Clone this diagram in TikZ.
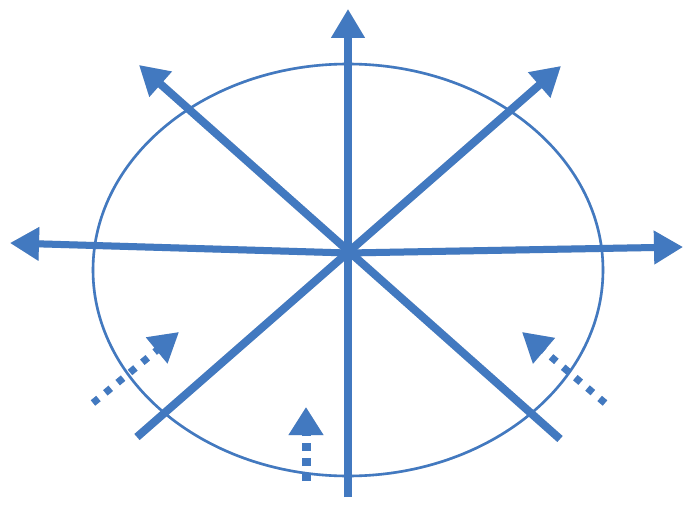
\documentclass[tikz,border=0pt]{standalone}
\usetikzlibrary{arrows.meta}
\definecolor{axisblue}{RGB}{66,121,192}
\definecolor{shadowgrey}{RGB}{150,150,150}
\begin{document}
\begin{tikzpicture}[x=1pt,y=-1pt,
  axisline/.style={draw=#1, line width=8pt, -{Triangle[length=29pt,width=32pt]}},
  plainline/.style={draw=#1, line width=8pt},
  hline/.style={draw=#1, line width=7pt, line cap=round, -{Triangle[length=29pt,width=32pt]}},
  rim/.style={draw=#1, line width=2.6pt},
  dotarrow/.style={draw=#1, line width=7pt, dash pattern=on 7pt off 9pt, -{Triangle[length=29pt,width=32pt]}},
  dasharrow/.style={draw=#1, line width=9pt, dash pattern=on 8pt off 7pt, -{Triangle[length=28pt,width=33pt]}}]
\useasboundingbox (0,0) rectangle (686,511);
% named points
\coordinate (C) at (348,253);
\coordinate (Ntip) at (348,9);
\coordinate (Send) at (348,497);
\coordinate (Wtip) at (10,243);
\coordinate (Etip) at (683,247);
\coordinate (NWtip) at (139,65);
\coordinate (SEend) at (560,439);
\coordinate (NEtip) at (561,66);
\coordinate (SWend) at (137,437);
\coordinate (LLtail) at (93,403);
\coordinate (LLtip) at (179,332);
\coordinate (LRtail) at (605,403);
\coordinate (LRtip) at (522,332);
\coordinate (Btail) at (306,481);
\coordinate (Btip) at (306,407);
\coordinate (Ec) at (348,270);
\newcommand\axesfig[1]{%
  \draw[rim=#1] (Ec) ellipse [x radius=255, y radius=206];
  \draw[axisline=#1] (SEend) -- (NWtip);
  \draw[axisline=#1] (SWend) -- (NEtip);
  \draw[hline=#1] (C) -- (Wtip);
  \draw[hline=#1] (C) -- (Etip);
  \draw[axisline=#1] (Send) -- (Ntip);
  \draw[dotarrow=#1] (LLtail) -- (LLtip);
  \draw[dotarrow=#1] (LRtail) -- (LRtip);
  \draw[dasharrow=#1] (Btail) -- (Btip);
}
\begin{scope}[shift={(2.5,3.5)}, opacity=0.3]
  \axesfig{shadowgrey}
\end{scope}
\axesfig{axisblue}
\end{tikzpicture}
\end{document}
